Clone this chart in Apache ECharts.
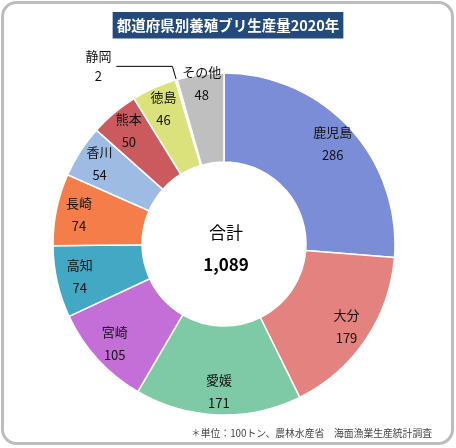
<!DOCTYPE html>
<html>
<head>
<meta charset="utf-8">
<script src="https://cdn.jsdelivr.net/npm/echarts@6/dist/echarts.min.js"></script>
<style>
  html, body { margin: 0; padding: 0; background: #fff; }
  #chart { width: 456px; height: 448px; }
</style>
</head>
<body>
<div id="chart"></div>
<script>
const prefectures = ['鹿児島', '大分', '愛媛', '宮崎', '高知', '長崎', '香川', '熊本', '徳島', '静岡', 'その他']
const production = [286, 179, 171, 105, 74, 74, 54, 50, 46, 2, 48]
const colors = ['#7b8dd6', '#e3827e', '#7fcaa6', '#c46fd8', '#42a8c4', '#f47d4a', '#9ebbe4', '#cb5a5f', '#dbe27c', '#f2e47a', '#bfbfbf']
const totalLabel = '合計'
const totalValue = '1,089'
const titleText = '都道府県別養殖ブリ生産量2020年'
const noteText = '＊単位：100トン、農林水産省　海面漁業生産統計調査'

const CX = 224
const CY = 244
const LABEL_R = 148
const font = '"Noto Sans CJK JP", "Noto Sans", sans-serif'

const chart = echarts.init(document.getElementById('chart'))

chart.setOption({
  backgroundColor: '#fff',
  animation: false,
  title: {
    text: titleText,
    left: 'center',
    top: 12,
    padding: [6, 4, 6, 4],
    backgroundColor: '#234a7b',
    textStyle: { color: '#fff', fontSize: 14.5, fontWeight: 'bold', fontFamily: font }
  },
  graphic: [
    {
      type: 'rect',
      shape: { x: 2.5, y: 2.5, width: 450, height: 441, r: 14 },
      style: { fill: 'none', stroke: '#bdbdbd', lineWidth: 3 }
    },
    {
      type: 'text',
      x: CX + 2, y: 233,
      style: { text: totalLabel, textAlign: 'center', textVerticalAlign: 'middle', fill: '#000', font: '17px ' + font }
    },
    {
      type: 'text',
      x: CX + 2, y: 265,
      style: { text: totalValue, textAlign: 'center', textVerticalAlign: 'middle', fill: '#000', font: 'bold 17px ' + font }
    },
    {
      type: 'text',
      x: 432, y: 433,
      style: { text: noteText, textAlign: 'right', textVerticalAlign: 'middle', fill: '#444', font: '9.8px ' + font }
    }
  ],
  series: [
    {
      type: 'pie',
      center: [CX, CY],
      radius: [82, 171],
      startAngle: 90,
      clockwise: true,
      avoidLabelOverlap: false,
      itemStyle: { borderColor: '#fff', borderWidth: 1.5 },
      label: {
        show: true,
        position: 'inside',
        formatter: '{b}\n{c}',
        color: '#111',
        fontSize: 13,
        lineHeight: 23,
        fontFamily: font
      },
      labelLine: { show: false },
      labelLayout: function (p) {
        if (p.dataIndex === 9) return {}
        const r = p.labelRect
        const lx = r.x + r.width / 2
        const ly = r.y + r.height / 2
        const dx = lx - CX
        const dy = ly - CY
        const target = p.dataIndex === 10 ? 162 : LABEL_R
        const k = target / Math.hypot(dx, dy)
        return { dx: dx * (k - 1), dy: dy * (k - 1) }
      },
      data: prefectures.map((name, i) => {
        const item = { name: name, value: production[i], itemStyle: { color: colors[i] } }
        if (name === '静岡') {
          item.label = {
            position: 'outside',
            distanceToLabelLine: 2,
            formatter: '{n|{b}}\n{n|{c}}',
            rich: { n: { width: 32, align: 'center', lineHeight: 20, fontSize: 13, color: '#111', fontFamily: font } }
          }
          item.labelLine = { show: true, length: 14, length2: 56, lineStyle: { color: '#000', width: 1 } }
        }
        return item
      })
    }
  ]
})
</script>
</body>
</html>
